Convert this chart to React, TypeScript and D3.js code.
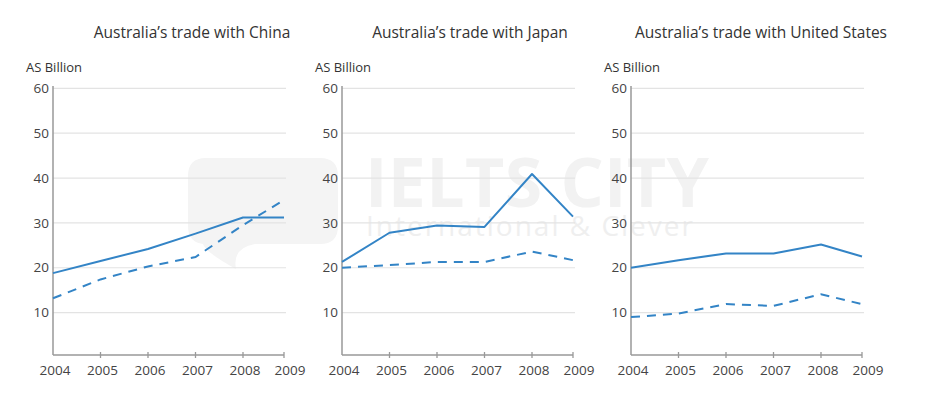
import React from "react";
import * as d3 from "d3";

// data (A$ billion)
const years = [2004, 2005, 2006, 2007, 2008, 2009];
const countries = ["China", "Japan", "United States"];
const solidSeries = [
  [18.8, 21.5, 24.2, 27.6, 31.2, 31.2],
  [21.3, 27.8, 29.4, 29.1, 40.9, 31.4],
  [20.0, 21.7, 23.2, 23.2, 25.2, 22.5],
];
const dashedSeries = [
  [13.2, 17.4, 20.3, 22.4, 29.5, 35.1],
  [20.0, 20.6, 21.3, 21.3, 23.6, 21.7],
  [9.0, 9.8, 11.9, 11.5, 14.1, 11.9],
];
const yTicks = [10, 20, 30, 40, 50, 60];

// layout
const W = 943;
const H = 397;
const panelLeft = [53, 342, 631];
const titleCentre = [192, 470, 761];
const plotW = 232;
const blue = "#3384c6";
const font = "'Open Sans', 'DejaVu Sans', sans-serif";

const y = d3.scaleLinear().domain([0, 60]).range([357.5, 88.3]);
// the source spaces 2008-2009 a little tighter than the other years
const xRel = d3.scaleLinear().domain([2004, 2008, 2009]).range([0, 190, 231]);

const Panel = ({ i }: { i: number }) => {
  const x0 = panelLeft[i];
  const x = (v: number) => x0 + xRel(v);
  const line = d3
    .line<number>()
    .x((_, k) => x(years[k]))
    .y((d) => y(d));
  const axisY = 355;
  return (
    <g>
      <text
        x={titleCentre[i]}
        y={38}
        textAnchor="middle"
        fontSize={15.5}
        fill="#333"
      >
        {`Australia’s trade with ${countries[i]}`}
      </text>
      <text x={x0 - 27} y={72} fontSize={13} fill="#333">
        AS Billion
      </text>
      {yTicks.map((t) => (
        <g key={t}>
          <line
            x1={x0}
            x2={x0 + plotW + 1}
            y1={y(t)}
            y2={y(t)}
            stroke="#e3e3e3"
            strokeWidth={1.2}
          />
          <text
            x={x0 - 4}
            y={y(t)}
            dy="0.35em"
            textAnchor="end"
            fontSize={13.5}
            fill="#444"
          >
            {t}
          </text>
        </g>
      ))}
      <line x1={x0} x2={x0} y1={86} y2={axisY} stroke="#999" strokeWidth={1.5} />
      <line
        x1={x0}
        x2={x(2009)}
        y1={axisY}
        y2={axisY}
        stroke="#999"
        strokeWidth={1.5}
      />
      {years.map((yr) => (
        <g key={yr}>
          {yr > 2004 && (
            <line
              x1={x(yr)}
              x2={x(yr)}
              y1={axisY - 3}
              y2={axisY + 3}
              stroke="#999"
              strokeWidth={1.3}
            />
          )}
          <text
            x={yr === 2009 ? x(yr) + 6 : x(yr) + 2}
            y={375}
            textAnchor="middle"
            fontSize={13.5}
            fill="#444"
          >
            {yr}
          </text>
        </g>
      ))}
      <path
        d={line(solidSeries[i]) ?? ""}
        fill="none"
        stroke={blue}
        strokeWidth={2}
        strokeLinejoin="round"
      />
      <path
        d={line(dashedSeries[i]) ?? ""}
        fill="none"
        stroke={blue}
        strokeWidth={2}
        strokeDasharray="9,7"
      />
    </g>
  );
};

export default function App() {
  return (
    <svg
      width={W}
      height={H}
      style={{ display: "block", position: "absolute", left: 0, top: 0, background: "#fff", fontFamily: font }}
    >
      {/* faint watermark */}
      <g>
        <path
          d="M206,158 H320 Q338,158 338,176 V226 Q338,244 320,244 H255 Q232,248 236,269 Q205,252 203,244 Q188,242 188,226 V176 Q188,158 206,158 Z"
          fill="#f4f4f4"
        />
        <text x={365} y={207} fontSize={68} fontWeight={700} fill="#f2f2f2" textLength={344}>
          IELTS CITY
        </text>
        <text x={366} y={236} fontSize={28} fill="#efefef" textLength={327}>
          International &amp; Clever
        </text>
      </g>
      {countries.map((_, i) => (
        <Panel key={i} i={i} />
      ))}
    </svg>
  );
}
